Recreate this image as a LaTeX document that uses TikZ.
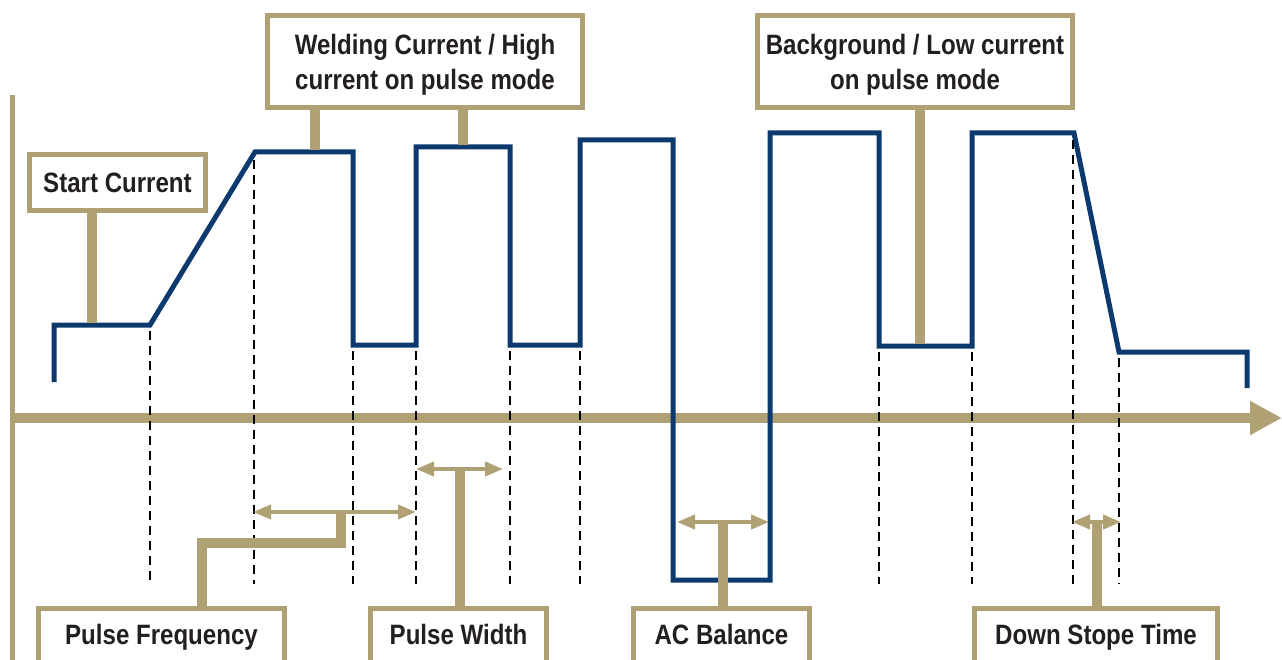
\documentclass[tikz,border=0pt]{standalone}
\usepackage{fontspec}
\setmainfont[FakeStretch=0.86]{Liberation Sans}
\usetikzlibrary{arrows.meta}
\definecolor{gold}{RGB}{176,161,116}
\definecolor{wave}{RGB}{12,58,110}
\definecolor{ink}{RGB}{35,31,32}
\begin{document}
\begin{tikzpicture}[x=1pt,y=-1pt,
  lbl/.style={draw=gold, line width=5pt, fill=white, text=ink, font=\fontsize{28}{35}\selectfont\bfseries, inner sep=0pt, align=center},
  botlbl/.style={lbl, anchor=base, text height=20pt, text depth=20pt, inner ysep=15.5pt},
  stem/.style={draw=gold, line width=10pt},
  dimarrow/.style={draw=gold, line width=4pt, {Triangle[length=18pt,width=14pt]}-{Triangle[length=18pt,width=14pt]}},
  guide/.style={draw=black, line width=1.1pt, dash pattern=on 9pt off 6pt},
  wavel/.style={draw=wave, line width=5pt, line join=miter}]
\useasboundingbox (0,0) rectangle (1282,660);
\clip (0,0) rectangle (1282,660);
% axes
\coordinate (yt) at (12,95); \coordinate (yb) at (12,662);
\draw[gold, line width=5pt] (yt) -- (yb);
\coordinate (xo) at (10,418); \coordinate (xe) at (1282,418);
\draw[gold, line width=10pt, -{Triangle[length=32pt,width=32pt]}] (xo) -- (xe);
% waveform
\draw[wavel] (54,382) -- (54,325) -- (150,325) -- (255,152) -- (353,152) -- (353,345) -- (416,345) -- (416,147) -- (510,147) -- (510,345) -- (580,345) -- (580,140) -- (673,140) -- (673,580) -- (770,580) -- (770,133) -- (879,133) -- (879,346) -- (972,346) -- (972,133) -- (1074,133) -- (1119,352) -- (1247,352) -- (1247,388);
% guides
\foreach \x/\y in {150/331, 254/160, 353/351, 416/351, 510/351, 580/351, 879/352, 972/352, 1073/140, 1119/358}
  \draw[guide] (\x,\y) -- (\x,584);
% top labels
\node[lbl, minimum width=176pt, minimum height=56pt, text height=20pt, text depth=0pt] (sc) at (117.5,182.5) {Start Current};
\node[lbl, minimum width=315pt, minimum height=92pt, text depth=0pt] (wc) at (425,61.5) {Welding Current / High\\current on pulse mode};
\node[lbl, minimum width=315pt, minimum height=92pt, text depth=0pt] (bg) at (915,61.5) {Background / Low current\\on pulse mode};
\coordinate (s1) at (92,323);
\coordinate (s2) at (315,150);
\coordinate (s3) at (463,145);
\coordinate (s4) at (920,344);
\draw[stem] (s1 |- sc.south) -- (s1);
\draw[stem] (s2 |- wc.south) -- (s2);
\draw[stem] (s3 |- wc.south) -- (s3);
\draw[stem] (s4 |- bg.south) -- (s4);
% bottom labels
\node[botlbl, minimum width=246pt] (pf) at (161.5,644) {Pulse Frequency};
\node[botlbl, minimum width=176pt] (pw) at (458.5,644) {Pulse Width};
\node[botlbl, minimum width=176pt] (ac) at (721.5,644) {AC Balance};
\node[botlbl, minimum width=243pt] (ds) at (1096,644) {Down Stope Time};
% dimension arrows
\coordinate (pfa1) at (253,512); \coordinate (pfa2) at (416,512);
\coordinate (pwa1) at (416,469); \coordinate (pwa2) at (503,469);
\coordinate (aca1) at (677,522); \coordinate (aca2) at (769,522);
\coordinate (dsa1) at (1072,522); \coordinate (dsa2) at (1121,522);
\coordinate (pfs) at (341,512); \coordinate (pfk) at (202,543);
\coordinate (pws) at (460,469);
\coordinate (acs) at (723,522);
\coordinate (dss) at (1097,522);
\draw[stem, line join=miter] (pfs) -- (pfs |- pfk) -- (pfk) -- (pfk |- pf.north);
\draw[stem] (pws) -- (pws |- pw.north);
\draw[stem] (acs) -- (acs |- ac.north);
\draw[stem] (dss) -- (dss |- ds.north);
\draw[dimarrow] (pfa1) -- (pfa2);
\draw[dimarrow] (pwa1) -- (pwa2);
\draw[dimarrow] (aca1) -- (aca2);
\draw[dimarrow] (dsa1) -- (dsa2);
\end{tikzpicture}
\end{document}
